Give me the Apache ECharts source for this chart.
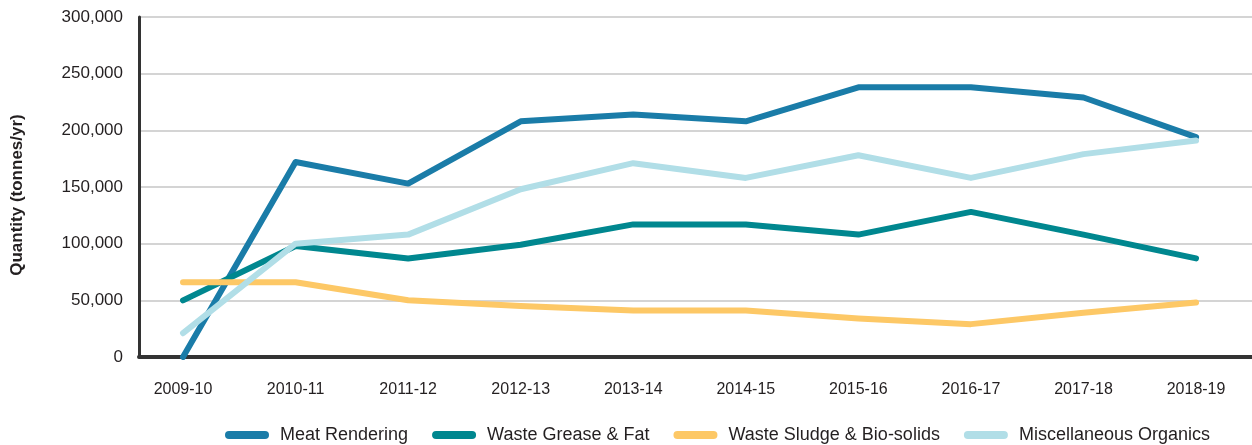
<!DOCTYPE html>
<html>
<head>
<meta charset="utf-8">
<script src="https://cdn.jsdelivr.net/npm/echarts@6/dist/echarts.min.js"></script>
<style>
  html, body { margin: 0; padding: 0; background: #fff; }
  #chart { width: 1252px; height: 445px; }
</style>
</head>
<body>
<div id="chart"></div>
<script>
var categories = ['2009-10', '2010-11', '2011-12', '2012-13', '2013-14', '2014-15', '2015-16', '2016-17', '2017-18', '2018-19'];
var meatRendering = [0, 172000, 153000, 208000, 214000, 208000, 238000, 238000, 229000, 194000];
var wasteGreaseFat = [50000, 98000, 87000, 99000, 117000, 117000, 108000, 128000, 108000, 87000];
var wasteSludgeBiosolids = [66000, 66000, 50000, 45000, 41000, 41000, 34000, 29000, 39000, 48000];
var miscOrganics = [21000, 100000, 108000, 148000, 171000, 158000, 178000, 158000, 179000, 191000];
var seriesNames = ['Meat Rendering', 'Waste Grease & Fat', 'Waste Sludge & Bio-solids', 'Miscellaneous Organics'];
var yTicks = [0, 50000, 100000, 150000, 200000, 250000, 300000];

var colors = ['#1a7ca8', '#00878f', '#fdc866', '#b1dee7'];
var font = "'Liberation Sans', Arial, sans-serif";

function pairs(arr) { return arr.map(function (v, i) { return [i, v]; }); }
var allData = [meatRendering, wasteGreaseFat, wasteSludgeBiosolids, miscOrganics];

var chart = echarts.init(document.getElementById('chart'), null, { renderer: 'canvas' });
chart.setOption({
  animation: false,
  color: colors,
  textStyle: { fontFamily: font },
  grid: { left: 139, right: 0, top: 17, bottom: 88, containLabel: false },
  legend: {
    left: 220,
    top: 421,
    itemWidth: 44,
    itemHeight: 8,
    itemGap: 24,
    icon: 'path://M4,0 L40,0 A4,4 0 0 1 40,8 L4,8 A4,4 0 0 1 4,0 Z',
    textStyle: { fontSize: 18, color: '#231f20', fontFamily: font, padding: [0, 0, 0, 6] },
    data: seriesNames
  },
  xAxis: {
    type: 'value',
    min: -0.391,
    max: 9.497,
    axisLine: { show: true, onZero: false, lineStyle: { color: '#333333', width: 4 } },
    axisTick: { show: false },
    splitLine: { show: false },
    axisLabel: {
      customValues: categories.map(function (c, i) { return i; }),
      formatter: function (v) { return categories[Math.round(v)]; },
      fontSize: 16,
      color: '#231f20',
      margin: 25,
      fontFamily: font
    }
  },
  yAxis: {
    type: 'value',
    min: yTicks[0],
    max: yTicks[yTicks.length - 1],
    interval: yTicks[1] - yTicks[0],
    name: 'Quantity (tonnes/yr)',
    nameLocation: 'middle',
    nameRotate: 90,
    nameGap: 113,
    nameTextStyle: { fontSize: 17, fontWeight: 'bold', color: '#231f20', fontFamily: font, padding: [0, 16, 0, 0] },
    axisLine: { show: true, onZero: false, lineStyle: { color: '#333333', width: 3 } },
    axisTick: { show: false },
    splitLine: { show: true, lineStyle: { color: '#c6c6c6', width: 1.5 } },
    axisLabel: {
      fontSize: 17,
      color: '#231f20',
      margin: 16,
      fontFamily: font,
      formatter: function (v) { return v.toLocaleString('en-US'); }
    }
  },
  series: seriesNames.map(function (name, k) {
    return {
      name: name,
      type: 'line',
      data: pairs(allData[k]),
      symbol: 'none',
      lineStyle: { width: 6, color: colors[k], cap: 'round', join: 'round' },
      itemStyle: { color: colors[k] }
    };
  })
});
</script>
</body>
</html>
